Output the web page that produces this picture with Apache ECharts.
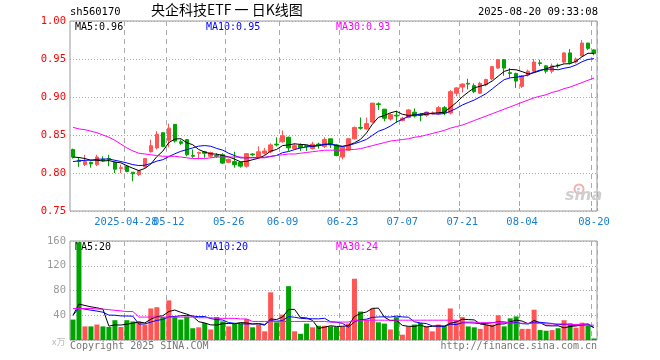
<!DOCTYPE html>
<html><head><meta charset="utf-8">
<script src="https://cdn.jsdelivr.net/npm/echarts@6/dist/echarts.min.js"></script>
<style>html,body{margin:0;padding:0;background:#fff}#c{width:660px;height:360px}</style>
</head><body><div id="c"></div>
<script>
const dates = ['2025-04-15','2025-04-16','2025-04-17','2025-04-18','2025-04-21','2025-04-22','2025-04-23','2025-04-24','2025-04-25',
'2025-04-28','2025-04-29','2025-04-30','2025-05-06','2025-05-07','2025-05-08','2025-05-09',
'2025-05-12','2025-05-13','2025-05-14','2025-05-15','2025-05-16','2025-05-19','2025-05-20','2025-05-21','2025-05-22','2025-05-23',
'2025-05-26','2025-05-27','2025-05-28','2025-05-29','2025-05-30','2025-06-03','2025-06-04','2025-06-05','2025-06-06',
'2025-06-09','2025-06-10','2025-06-11','2025-06-12','2025-06-13','2025-06-16','2025-06-17','2025-06-18','2025-06-19','2025-06-20',
'2025-06-23','2025-06-24','2025-06-25','2025-06-26','2025-06-27','2025-06-30','2025-07-01','2025-07-02','2025-07-03','2025-07-04',
'2025-07-07','2025-07-08','2025-07-09','2025-07-10','2025-07-11','2025-07-14','2025-07-15','2025-07-16','2025-07-17','2025-07-18',
'2025-07-21','2025-07-22','2025-07-23','2025-07-24','2025-07-25','2025-07-28','2025-07-29','2025-07-30','2025-07-31','2025-08-01',
'2025-08-04','2025-08-05','2025-08-06','2025-08-07','2025-08-08','2025-08-11','2025-08-12','2025-08-13','2025-08-14','2025-08-15',
'2025-08-18','2025-08-19','2025-08-20'];
const tickDates = ['2025-04-28','2025-05-12','2025-05-26','2025-06-09','2025-06-23','2025-07-07','2025-07-21','2025-08-04','2025-08-20'];

const openP  = [.831,.817,.811,.814,.811,.818,.819,.814,.806,.809,.801,.798,.808,.828,.833,.853,.843,.864,.841,.844,
.823,.826,.828,.822,.823,.824,.814,.815,.814,.809,.825,.820,.826,.828,.838,.841,.847,.832,.837,.836,
.832,.838,.835,.845,.837,.821,.830,.845,.860,.858,.867,.891,.884,.871,.876,.869,.873,.880,.877,.876,
.878,.878,.886,.879,.905,.913,.918,.915,.905,.916,.924,.938,.949,.932,.931,.914,.929,.934,.945,.941,
.934,.942,.946,.958,.946,.954,.971,.962];
const closeP = [.821,.815,.815,.812,.821,.816,.818,.805,.807,.802,.799,.803,.819,.836,.851,.835,.859,.842,.839,.824,
.822,.827,.826,.827,.822,.813,.818,.811,.809,.8255,.824,.828,.829,.837,.837,.849,.833,.836,.833,.835,
.838,.837,.844,.837,.823,.834,.845,.860,.859,.865,.892,.890,.872,.877,.875,.872,.883,.875,.876,.880,
.879,.886,.879,.907,.912,.917,.917,.907,.918,.923,.940,.949,.938,.931,.921,.928,.934,.946,.944,.934,
.941,.941,.958,.945,.950,.971,.964,.957];
const lowP   = [.819,.808,.809,.807,.809,.815,.809,.800,.800,.801,.789,.796,.807,.827,.831,.834,.834,.840,.837,.822,
.820,.818,.820,.820,.820,.812,.813,.807,.807,.807,.822,.820,.824,.826,.835,.840,.829,.831,.829,.829,
.831,.832,.833,.833,.822,.818,.829,.844,.857,.857,.866,.883,.868,.869,.866,.868,.872,.873,.868,.874,
.877,.877,.876,.877,.901,.906,.910,.905,.904,.914,.922,.937,.928,.925,.912,.912,.927,.932,.941,.931,
.931,.938,.944,.943,.944,.954,.962,.955];
const highP  = [.832,.821,.824,.815,.824,.822,.824,.815,.811,.810,.801,.804,.819,.844,.855,.853,.865,.864,.844,.844,
.831,.828,.829,.828,.826,.826,.819,.828,.815,.826,.826,.835,.833,.839,.847,.856,.848,.839,.839,.837,
.841,.840,.847,.845,.838,.835,.846,.861,.873,.873,.892,.893,.884,.879,.882,.874,.884,.885,.879,.881,
.881,.888,.888,.909,.913,.918,.924,.918,.920,.924,.941,.950,.950,.938,.932,.929,.936,.950,.949,.942,
.944,.944,.959,.963,.952,.975,.971,.963];
const volume = [33,158,22,22,25,22,21,32,21,32,30,30,25,51,53,37,64,37,33,38,
19,20.5,27.5,17,37,30,22,26,26,34,20.5,25,14,77,28.6,41,87,14,10,26.5,
20.5,23,23,22,21,22,26.5,99,46,33,51,28.6,26.5,17,37,8.6,22,25,27.5,22,
14,25,23,51,32,37,22,20.5,18,25,25,40,22,35,38,18,18,49,16,15,
16,19,32,27,20,28,23,2.5];
// closes / volumes before the first shown day (for moving averages)
const priorClose = [.805,.808,.810,.810,.812,.818,.822,.823,.821];
const priorVolume = [40,42,38,40,40,68,33,33,33];
// 30-day averages
const ma30Price = [.860,.858,.857,.855,.853,.850,.847,.843,.838,.833,.829,.826,.825,.824,.823,.822,.822,.822,.821,.820,
.819,.819,.819,.820,.821,.821,.821,.821,.821,.820,.820,.820,.820,.822,.823,.824,.825,.825,.826,.827,
.828,.829,.830,.830,.830,.830,.831,.831,.832,.834,.836,.838,.840,.842,.843,.844,.845,.847,.848,.850,
.852,.854,.856,.859,.861,.863,.866,.869,.872,.875,.878,.881,.884,.887,.890,.893,.896,.899,.901,.903,
.906,.908,.911,.913,.916,.919,.922,.925];
const ma30Vol = [51,51,51,51,50,50,49,48,47,46,46,
37,37,37,37,37,37,37,37,37,37,36,36,36,35,35,35,35,34,34,
30,30,30,30,30,30,30,30,30,30,30,30,30,29,29,29,29,
32,32,32,32,32,32,32,32,32,32,32,32,32,32,32,32,32,32,
29,29,29,28,28,28,28,28,28,27,27,27,27,27,26,26,26,26,25,25,25,24,24];

function movAvg(arr, prior, n) {
  const all = prior.concat(arr);
  return arr.map((_, i) => {
    const j = i + prior.length;
    if (j < n - 1) return '-';
    let s = 0;
    for (let k = j - n + 1; k <= j; k++) s += all[k];
    return s / n;
  });
}
const ma5P = movAvg(closeP, priorClose, 5), ma10P = movAvg(closeP, priorClose, 10);
const ma5V = movAvg(volume, priorVolume, 5), ma10V = movAvg(volume, priorVolume, 10);
const candles = dates.map((d, i) => [openP[i], closeP[i], lowP[i], highP[i]]);
const RED = '#ff5555', GREEN = '#00a400';
const volBars = volume.map((v, i) => ({value: v, itemStyle: {color: closeP[i] >= openP[i] ? RED : GREEN}}));
const last = a => a[a.length - 1];

const mono = 'DejaVu Sans Mono';
const LABEL_COLOR = '#1a7fd0';
const showIdx = (i) => tickDates.indexOf(dates[i]) >= 0;
// the first (long) tick label is drawn separately so the library does not drop an overlapping one
const fmt = v => v === tickDates[0] ? '' : v.slice(5);
const dash = {show: true, interval: showIdx, lineStyle: {color: '#aaa', type: [5, 4], width: 1}};

const chart = echarts.init(document.getElementById('c'), null, {renderer: 'canvas'});
const baseGraphic = [
  {type: 'text', left: 70, top: 7, style: {text: 'sh560170', font: '10.5px "DejaVu Sans Mono"', fill: '#000'}},
  {type: 'text', left: 151, top: 3, style: {text: '央企科技ETF 一 日K线图', font: '14px "Noto Sans CJK SC"', fill: '#000'}},
  {type: 'text', right: 62, top: 7, style: {text: '2025-08-20 09:33:08', font: '10.5px "DejaVu Sans Mono"', fill: '#000'}},
  {type: 'text', left: 75, top: 22, style: {text: 'MA5:' + last(ma5P).toFixed(2), font: '10px "DejaVu Sans Mono"', fill: '#000'}},
  {type: 'text', left: 206, top: 22, style: {text: 'MA10:' + last(ma10P).toFixed(2), font: '10px "DejaVu Sans Mono"', fill: '#0000ff'}},
  {type: 'text', left: 336, top: 22, style: {text: 'MA30:' + last(ma30Price).toFixed(2), font: '10px "DejaVu Sans Mono"', fill: '#ff00ff'}},
  {type: 'text', left: 75, top: 242, style: {text: 'MA5:' + Math.round(last(ma5V)), font: '10px "DejaVu Sans Mono"', fill: '#000'}},
  {type: 'text', left: 206, top: 242, style: {text: 'MA10:' + Math.round(last(ma10V)), font: '10px "DejaVu Sans Mono"', fill: '#0000ff'}},
  {type: 'text', left: 336, top: 242, style: {text: 'MA30:' + Math.round(last(ma30Vol)), font: '10px "DejaVu Sans Mono"', fill: '#ff00ff'}},
  {type: 'text', left: 52, top: 337, style: {text: 'x万', font: '9px "Noto Sans CJK SC"', fill: '#bbb'}},
  {type: 'text', left: 70, top: 341, style: {text: 'Copyright 2025 SINA.COM', font: '10px "DejaVu Sans Mono"', fill: '#777'}},
  {type: 'text', right: 63, top: 341, style: {text: 'http://finance.sina.com.cn', font: '10px "DejaVu Sans Mono"', fill: '#777'}},
  {type: 'circle', shape: {cx: 579, cy: 189, r: 4.5}, style: {fill: 'none', stroke: '#f3b0b0', lineWidth: 2}},
  {type: 'text', left: 565, top: 188, style: {text: 'sina', font: 'italic bold 16px "DejaVu Sans"', fill: '#cfcfcf'}}
];
chart.setOption({
  animation: false,
  backgroundColor: '#fff',
  grid: [
    {left: 70, right: 63, top: 21, height: 190, show: true, borderColor: '#999', borderWidth: 1, backgroundColor: 'transparent'},
    {left: 70, right: 63, top: 241, height: 99, show: true, borderColor: '#999', borderWidth: 1, backgroundColor: 'transparent'}
  ],
  xAxis: [
    {type: 'category', gridIndex: 0, data: dates, boundaryGap: true,
     axisLine: {show: false},
     axisTick: {show: true, inside: true, length: 3, interval: showIdx, lineStyle: {color: '#999'}},
     axisLabel: {interval: showIdx, hideOverlap: false, showMinLabel: true, showMaxLabel: true,
       color: LABEL_COLOR, fontFamily: mono, fontSize: 10.5, margin: 6, formatter: fmt},
     splitLine: dash},
    {type: 'category', gridIndex: 1, data: dates, boundaryGap: true,
     axisLine: {show: false}, axisTick: {show: false},
     axisLabel: {show: false, interval: showIdx, showMinLabel: true, showMaxLabel: true, formatter: fmt}, splitLine: dash}
  ],
  yAxis: [
    {type: 'value', gridIndex: 0, min: 0.75, max: 1.0, interval: 0.05,
     axisLine: {show: false}, axisTick: {show: false},
     axisLabel: {color: '#ff0000', fontFamily: mono, fontSize: 10.5, margin: 4, formatter: v => v.toFixed(2)},
     splitLine: {show: true, lineStyle: {color: '#aaa', type: [1, 2]}}},
    {type: 'value', gridIndex: 1, min: 0, max: 160, interval: 40,
     axisLine: {show: false}, axisTick: {show: false},
     axisLabel: {color: '#999', fontFamily: mono, fontSize: 10.5, margin: 4, formatter: v => v === 0 ? '' : String(v)},
     splitLine: {show: true, lineStyle: {color: '#aaa', type: [1, 2]}}}
  ],
  series: [
    {type: 'candlestick', xAxisIndex: 0, yAxisIndex: 0, data: candles, barWidth: 4,
     itemStyle: {color: RED, color0: GREEN, borderColor: RED, borderColor0: GREEN, borderWidth: 1}},
    {type: 'line', xAxisIndex: 0, yAxisIndex: 0, data: ma5P, symbol: 'none', lineStyle: {color: '#000', width: 1}},
    {type: 'line', xAxisIndex: 0, yAxisIndex: 0, data: ma10P, symbol: 'none', lineStyle: {color: '#0000ff', width: 1}},
    {type: 'line', xAxisIndex: 0, yAxisIndex: 0, data: ma30Price, symbol: 'none', lineStyle: {color: '#ff00ff', width: 1}},
    {type: 'bar', xAxisIndex: 1, yAxisIndex: 1, data: volBars, barWidth: 5},
    {type: 'line', xAxisIndex: 1, yAxisIndex: 1, data: ma5V, symbol: 'none', lineStyle: {color: '#000', width: 1}},
    {type: 'line', xAxisIndex: 1, yAxisIndex: 1, data: ma10V, symbol: 'none', lineStyle: {color: '#0000ff', width: 1}},
    {type: 'line', xAxisIndex: 1, yAxisIndex: 1, data: ma30Vol, symbol: 'none', lineStyle: {color: '#ff00ff', width: 1}}
  ],
  graphic: baseGraphic
});
// place the first date label at the axis position of its category
const px = chart.convertToPixel({xAxisIndex: 0}, tickDates[0]);
const py = chart.convertToPixel({yAxisIndex: 0}, 0.75);
chart.setOption({graphic: baseGraphic.concat([
  {type: 'text', x: px - 1, y: py + 6, style: {text: tickDates[0], font: '10.5px "DejaVu Sans Mono"', fill: LABEL_COLOR, align: 'center', verticalAlign: 'top'}}
])});
</script></body></html>
